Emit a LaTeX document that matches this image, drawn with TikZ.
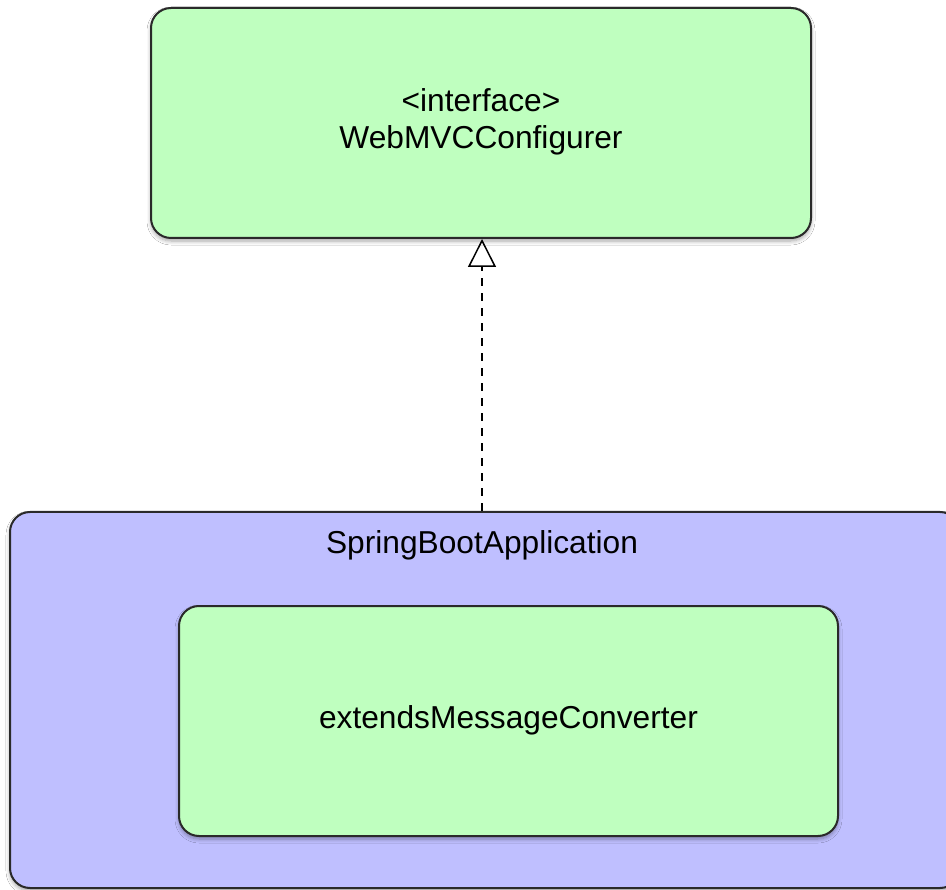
\documentclass[tikz,border=0pt]{standalone}
\usepackage{fontspec}
\setmainfont{Liberation Sans}
\usetikzlibrary{arrows.meta,shadows.blur}
\definecolor{boxgreen}{HTML}{BFFFBF}
\definecolor{boxpurple}{HTML}{BFBFFF}
\definecolor{edge}{HTML}{2A2A2A}
\begin{document}
\begin{tikzpicture}[x=1pt,y=-1pt,
  umlbox/.style={draw=edge, line width=2pt, rounded corners=20pt, minimum width=#1,
    blur shadow={shadow xshift=0pt, shadow yshift=-3pt, shadow blur steps=6,
      shadow blur radius=4pt, shadow opacity=35}},
  boxtext/.style={font=\fontsize{31.7}{36.5}\selectfont, text=black, align=center},
  realize/.style={draw=black, line width=1.5pt, dash pattern=on 8pt off 7pt,
    -{Triangle[open, length=28pt, width=28pt, line width=1.5pt]}}]
  \useasboundingbox[fill=white] (0,0) rectangle (946,890);
  % interface box
  \node[umlbox=660pt, minimum height=230pt, fill=boxgreen] (iface) at (481,123) {};
  \node[boxtext] (ifacelabel) at (481,122) {<interface>\\WebMVCConfigurer};
  % application container
  \node[umlbox=950pt, minimum height=376pt, fill=boxpurple] (app) at (485,700) {};
  \node[boxtext, anchor=base] (applabel) at (482,554) {SpringBootApplication};
  % nested component
  \node[umlbox=659pt, minimum height=230pt, fill=boxgreen] (conv) at (508.5,721) {};
  \node[boxtext] (convlabel) at (508.5,720) {extendsMessageConverter};
  % realization arrow
  \coordinate (src) at (app.north -| 482,0);
  \coordinate (dst) at (iface.south -| 482,0);
  \draw[realize] (src) -- (dst);
\end{tikzpicture}
\end{document}
